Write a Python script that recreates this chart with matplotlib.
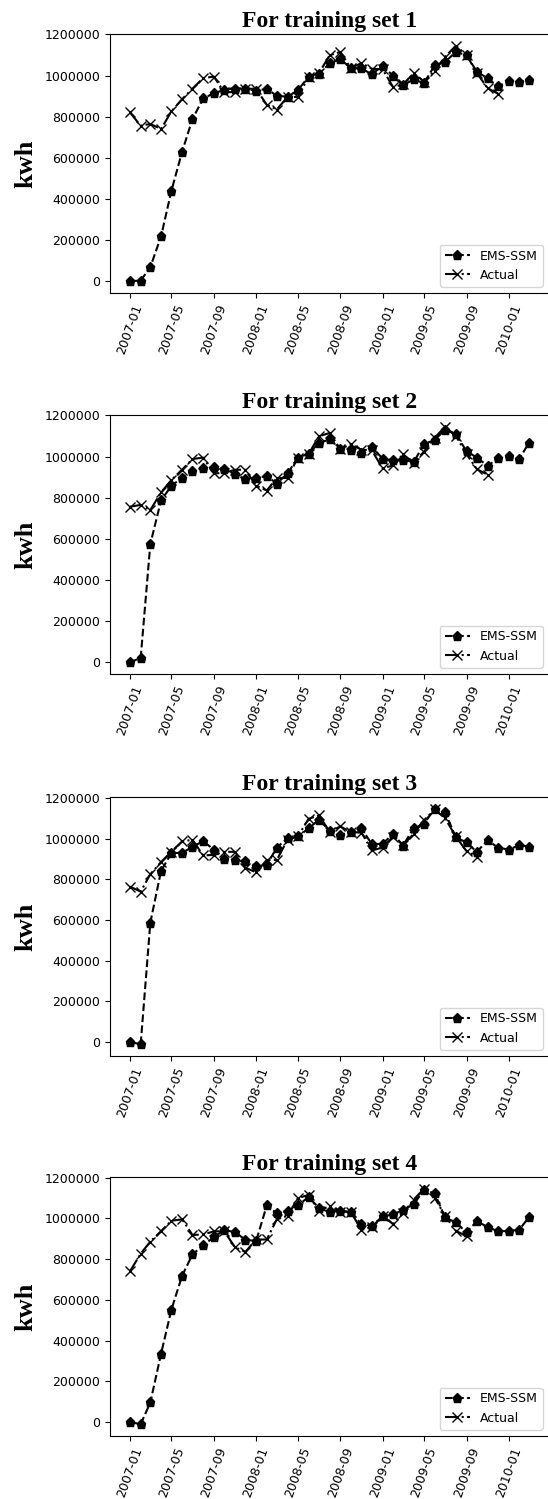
import matplotlib
matplotlib.use("Agg")
import matplotlib.pyplot as plt
import matplotlib.dates as mdates
import numpy as np
import pandas as pd

# ---- data (kwh, in thousands) ----
MONTHS = pd.date_range("2007-01-01", periods=39, freq="MS")

EMS_1 = [0, 3, 69, 218, 440, 630, 789, 889, 914, 931, 937, 934, 927, 935, 902, 897, 929,
         995, 1008, 1060, 1081, 1035, 1035, 1006, 1048, 998, 952, 982, 963, 1050, 1066,
         1115, 1100, 1019, 987, 947, 973, 968, 979]
EMS_2 = [0, 21, 575, 787, 858, 898, 932, 945, 948, 942, 914, 890, 897, 905, 869, 918, 995,
         1015, 1066, 1084, 1037, 1031, 1016, 1048, 990, 981, 985, 973, 1061, 1081, 1131,
         1108, 1027, 995, 955, 992, 1003, 989, 1068]
EMS_3 = [0, -11, 588, 842, 930, 931, 961, 989, 946, 900, 897, 892, 866, 872, 957, 1003,
         1012, 1051, 1095, 1039, 1020, 1033, 1051, 974, 975, 1025, 966, 1053, 1074, 1148,
         1131, 1008, 982, 936, 993, 957, 947, 969, 962]
EMS_4 = [0, -11, 96, 335, 552, 718, 823, 867, 908, 942, 932, 895, 888, 1063, 1025, 1037,
         1064, 1104, 1051, 1029, 1038, 1030, 970, 963, 1009, 1019, 1042, 1068, 1140, 1122,
         1004, 980, 931, 986, 957, 937, 937, 944, 1007]

# actual series (each training set shows it starting one month later)
ACTUAL = [821, 756, 765, 740, 826, 886, 937, 988, 995, 918, 921, 936, 936, 858, 835, 896,
          896, 995, 1012, 1099, 1115, 1036, 1061, 1033, 1031, 943, 957, 1011, 971, 1024,
          1092, 1145, 1101, 1012, 939, 912]
ACTUAL_START = [0, 1, 2, 3]

EMS = [EMS_1, EMS_2, EMS_3, EMS_4]
TITLES = ["For training set 1", "For training set 2", "For training set 3", "For training set 4"]

# ---- layout ----
W, H = 548, 1499
fig = plt.figure(figsize=(W / 100, H / 100), dpi=100)

tops = [34, 415, 797, 1177]
ax_h = 259
left_px, right_px = 110, 549

for k in range(4):
    top = tops[k]
    ax = fig.add_axes([left_px / W, 1 - (top + ax_h) / H, (right_px - left_px) / W, ax_h / H])
    ems = np.array(EMS[k]) * 1000
    act = np.array(ACTUAL[ACTUAL_START[k]:]) * 1000
    ax.plot(MONTHS, ems, linestyle="--", marker="p", color="black", lw=1.5, ms=6.5,
            label="EMS-SSM")
    ax.plot(MONTHS[:len(act)], act, linestyle="-.", marker="x", color="black", lw=1.5,
            ms=6.5, label="Actual")
    ax.set_title(TITLES[k], fontsize=17, fontweight="bold", family="Liberation Serif", pad=5)
    ax.set_ylabel("kwh", fontsize=19, fontweight="bold", family="Liberation Serif")
    ax.yaxis.set_label_coords(-0.165, 0.5)
    ax.ticklabel_format(style="plain", axis="y")
    ax.set_yticks([0, 200000, 400000, 600000, 800000, 1000000, 1200000])
    ax.xaxis.set_major_locator(mdates.MonthLocator(bymonth=[1, 5, 9]))
    ax.xaxis.set_major_formatter(mdates.DateFormatter("%Y-%m"))
    ax.tick_params(axis="both", labelsize=9)
    for lab in ax.get_xticklabels():
        lab.set_rotation(70)
    ax.legend(loc="lower right", fontsize=9)

fig.savefig("out.png", dpi=100)
